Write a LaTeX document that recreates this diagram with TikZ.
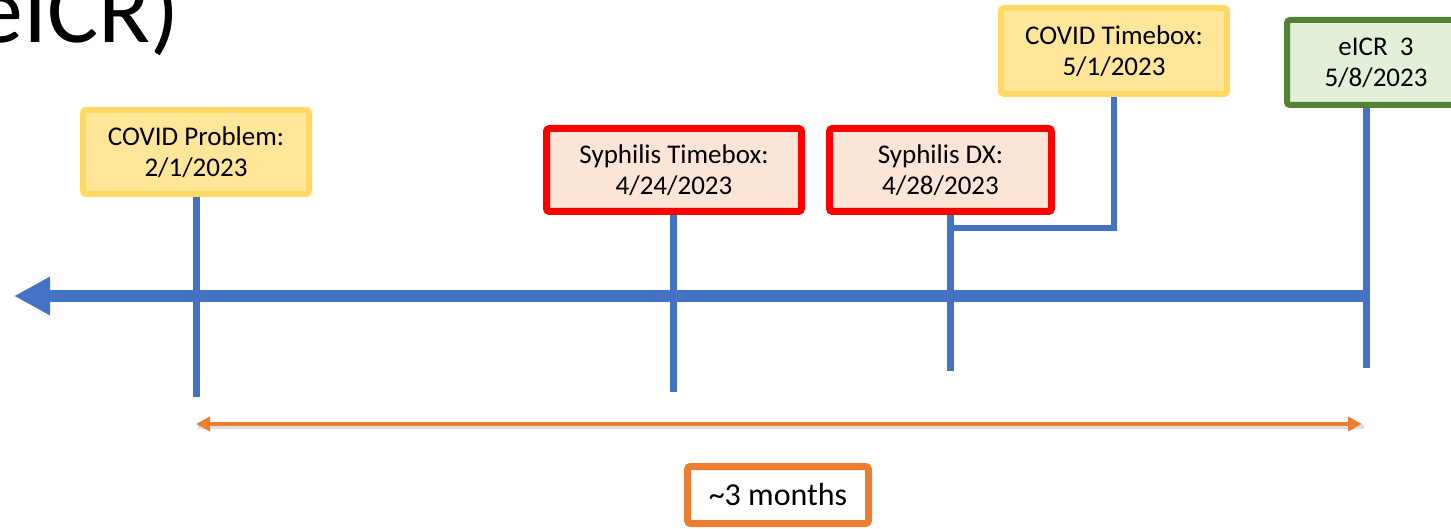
\documentclass[tikz,border=0pt]{standalone}
\usepackage{fontspec}
\setmainfont{Carlito}
\usetikzlibrary{arrows.meta}
\definecolor{tlblue}{HTML}{4472C4}
\definecolor{ylfill}{HTML}{FFE699}
\definecolor{yldraw}{HTML}{FFD966}
\definecolor{rdfill}{HTML}{FBE5D6}
\definecolor{rddraw}{HTML}{FF0000}
\definecolor{gnfill}{HTML}{E2F0D9}
\definecolor{gndraw}{HTML}{548235}
\definecolor{orng}{HTML}{ED7D31}
\begin{document}
\begin{tikzpicture}[x=1pt,y=-1pt,
  box/.style={draw, rounded corners=3pt, align=center, inner sep=0pt,
    font=\fontsize{27}{31}\selectfont},
  ybox/.style={box, fill=ylfill, draw=yldraw, line width=6pt},
  rbox/.style={box, fill=rdfill, draw=rddraw, line width=7pt},
  gbox/.style={box, fill=gnfill, draw=gndraw, line width=6pt},
  obox/.style={box, fill=white, draw=orng, line width=7pt, font=\fontsize{32}{36}\selectfont},
  tick/.style={draw=tlblue, line width=7pt},
]
\useasboundingbox (0,0) rectangle (1451,529);

\node[anchor=base east, inner sep=0pt, font=\fontsize{96}{96}\selectfont] (title) at (180,43) {eICR)};

\node[ybox, minimum width=226pt, minimum height=84pt] (cp) at (196,152) {COVID Problem:\\2/1/2023};
\node[rbox, minimum width=255pt, minimum height=83pt] (st) at (674,170) {Syphilis Timebox:\\4/24/2023};
\node[rbox, minimum width=222pt, minimum height=83pt] (sd) at (940.5,170) {Syphilis DX:\\4/28/2023};
\node[ybox, minimum width=226pt, minimum height=86pt] (ct) at (1114,51) {COVID Timebox:\\5/1/2023};
\node[gbox, minimum width=178pt, minimum height=85pt] (ei) at (1376,62.5) {eICR\ \ 3\\5/8/2023};
\node[obox, minimum width=181pt, minimum height=57pt] (tm) at (778,495) {\textasciitilde 3 months};

\coordinate (cpend) at (196,397);
\coordinate (stend) at (673,392);
\coordinate (sdend) at (950,371);
\coordinate (eiend) at (1366,368);
\coordinate (sdjoin) at (950,228);
\coordinate (axR) at (1366,296);
\coordinate (axL) at (14,296);
\coordinate (spL) at (196,424);
\coordinate (spR) at (1362,424);

% main axis
\draw[tlblue, line width=12pt, -{Triangle[length=36pt,width=36pt]}] (axR) -- (axL);

% ticks
\draw[tick] (cp.south) -- (cpend);
\draw[tick] (st.south -| stend) -- (stend);
\draw[tick] (sd.south -| sdend) -- (sdend);
\draw[tick] (ei.south -| eiend) -- (eiend);
\draw[tlblue, line width=6pt] (ct.south) |- (sdjoin);

% span arrow with soft shadow
\draw[black!25, line width=4pt, opacity=0.5] ([xshift=2pt,yshift=-3pt]spL) -- ([xshift=2pt,yshift=-3pt]spR);
\draw[orng, line width=3.5pt, {Triangle[length=14pt,width=14pt]}-{Triangle[length=14pt,width=14pt]}] (spL) -- (spR);
\end{tikzpicture}
\end{document}
